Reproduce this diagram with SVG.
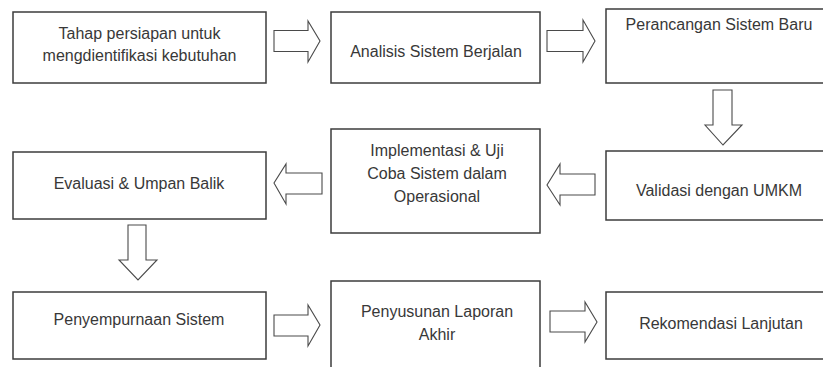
<svg xmlns="http://www.w3.org/2000/svg" width="823" height="367" viewBox="0 0 823 367">
<style>
.box{fill:#fff;stroke:#3c3c3c;stroke-width:1.5}
.arr{fill:#fff;stroke:#4a4a4a;stroke-width:1.1;stroke-linejoin:miter}
text{font-family:"Liberation Sans",Arial,sans-serif;font-size:16px;fill:#383838;text-anchor:middle}
</style>
<rect width="823" height="367" fill="#fff"/>
<g id="n1"><rect class="box" x="13" y="12" width="253" height="71"/><text x="139.5" y="39">Tahap persiapan untuk</text><text x="139.5" y="61">mengdientifikasi kebutuhan</text></g>
<g id="n2"><rect class="box" x="331" y="12" width="209" height="71"/><text x="436" y="57">Analisis Sistem Berjalan</text></g>
<g id="n3"><rect class="box" x="606" y="9" width="225" height="74"/><text x="719" y="30">Perancangan Sistem Baru</text></g>
<g id="n4"><rect class="box" x="606" y="151" width="225" height="69"/><text x="719" y="196">Validasi dengan UMKM</text></g>
<g id="n5"><rect class="box" x="331" y="129" width="209" height="104"/><text x="437" y="156">Implementasi &amp; Uji</text><text x="437" y="179">Coba Sistem dalam</text><text x="437" y="202">Operasional</text></g>
<g id="n6"><rect class="box" x="13" y="152" width="253" height="67"/><text x="139" y="189">Evaluasi &amp; Umpan Balik</text></g>
<g id="n7"><rect class="box" x="13" y="292" width="253" height="67"/><text x="139" y="325">Penyempurnaan Sistem</text></g>
<g id="n8"><rect class="box" x="331" y="281" width="209" height="100"/><text x="437" y="317">Penyusunan Laporan</text><text x="437" y="340">Akhir</text></g>
<g id="n9"><rect class="box" x="606" y="292" width="225" height="67"/><text x="721" y="329">Rekomendasi Lanjutan</text></g>
<g id="connectors">
<polygon class="arr" points="274,30.5 308,30.5 308,21 320,41 308,62 308,51.5 274,51.5"/>
<polygon class="arr" points="547,30.5 583,30.5 583,20 595,41 583,62 583,51.5 547,51.5"/>
<polygon class="arr" points="713,90 732,90 732,125 742,125 723,145 705,125 713,125"/>
<polygon class="arr" points="595,174 560,174 560,164 547,185 560,205 560,195 595,195"/>
<polygon class="arr" points="322,173 286,173 286,164 274,183 286,204 286,194 322,194"/>
<polygon class="arr" points="128,225 146,225 146,260 157,260 138,280 119,260 128,260"/>
<polygon class="arr" points="274,315 308,315 308,305 320,325 308,346 308,336 274,336"/>
<polygon class="arr" points="550,311 585,311 585,302 597,322 585,342 585,332 550,332"/>
</g>
</svg>
